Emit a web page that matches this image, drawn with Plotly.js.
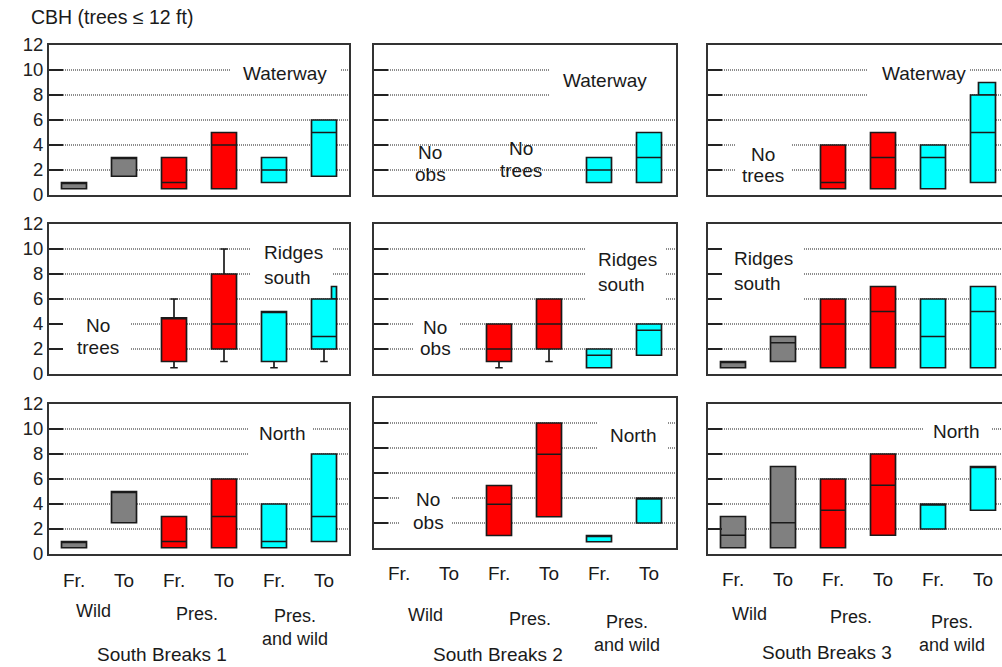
<!DOCTYPE html>
<html>
<head>
<meta charset="utf-8">
<script src="https://cdn.plot.ly/plotly-3.0.1.min.js"></script>
<style>html,body{margin:0;padding:0;background:#fff;}#chart{width:1002px;height:667px;}</style>
</head>
<body>
<div id="chart"></div>
<script>
// ---------- data ----------
const slotLabels = ['Fr.', 'To', 'Fr.', 'To', 'Fr.', 'To'];
const groupLabels = ['Wild', 'Pres.', 'Pres.<br>and wild'];
const siteLabels = ['South Breaks 1', 'South Breaks 2', 'South Breaks 3'];
const zoneLabels = ['Waterway', 'Ridges<br>south', 'North'];
const yTicks = [0, 2, 4, 6, 8, 10, 12];
const yTitle = 'CBH (trees \u2264 12 ft)';

// each slot: [q1, median, q3, lower whisker, upper whisker]; null = no box
const SB1_Waterway = [
  [0.5, null, 1, null, null],
  [1.5, null, 3, null, null],
  [0.5, 1, 3, null, null],
  [0.5, 4, 5, null, null],
  [1, 2, 3, null, null],
  [1.5, 5, 6, null, null]
];
const SB1_Ridges = [
  null,
  null,
  [1, null, 4.5, 0.5, 6],
  [2, 4, 8, 1, 10],
  [1, null, 5, 0.5, null],
  [2, 3, 6, 1, null]
];
const SB1_North = [
  [0.5, null, 1, null, null],
  [2.5, null, 5, null, null],
  [0.5, 1, 3, null, null],
  [0.5, 3, 6, null, null],
  [0.5, 1, 4, null, null],
  [1, 3, 8, null, null]
];
const SB2_Waterway = [
  null,
  null,
  null,
  null,
  [1, 2, 3, null, null],
  [1, 3, 5, null, null]
];
const SB2_Ridges = [
  null,
  null,
  [1, 2, 4, 0.5, null],
  [2, 4, 6, 1, null],
  [0.5, 1.5, 2, null, null],
  [1.5, 3.5, 4, null, null]
];
const SB2_North = [
  null,
  null,
  [1, 3.5, 5, null, null],
  [2.5, 7.5, 10, null, null],
  [0.5, null, 1, null, null],
  [2, null, 4, null, null]
];
const SB3_Waterway = [
  null,
  null,
  [0.5, 1, 4, null, null],
  [0.5, 3, 5, null, null],
  [0.5, 3, 4, null, null],
  [1, 5, 8, null, null]
];
const SB3_Ridges = [
  [0.5, null, 1, null, null],
  [1, 2.5, 3, null, null],
  [0.5, 4, 6, null, null],
  [0.5, 5, 7, null, null],
  [0.5, 3, 6, null, null],
  [0.5, 5, 7, null, null]
];
const SB3_North = [
  [0.5, 1.5, 3, null, null],
  [0.5, 2.5, 7, null, null],
  [0.5, 3.5, 6, null, null],
  [1.5, 5.5, 8, null, null],
  [2, null, 4, null, null],
  [3.5, null, 7, null, null]
];
// stepped top on part of a box (top value of the raised part)
const SB1_Ridges_step = [null, null, null, null, null, 7];
const SB3_Waterway_step = [null, null, null, null, null, 9];

// panel order: row-major (row = zone, column = site)
const panels = [
  SB1_Waterway, SB2_Waterway, SB3_Waterway,
  SB1_Ridges, SB2_Ridges, SB3_Ridges,
  SB1_North, SB2_North, SB3_North
];
const steps = [
  {panel: 3, data: SB1_Ridges_step, width: 0.1, offset: 0.15},
  {panel: 2, data: SB3_Waterway_step, width: 0.34, offset: -0.09}
];

// ---------- layout geometry (pixels) ----------
const W = 1002, H = 667;
const groupColors = ['#808080', '#ff0000', '#00ffff'];
const FONT = 'Liberation Sans, Arial, Helvetica, sans-serif';
const TXT = '#1a1a1a';
const colX = [[49, 349], [374, 676], [708, 1002]];
const colRange = [[0.5, 6.5], [0.5, 6.54], [0.5, 6.38]];
const rowY = [
  [[45, 195], [45, 195], [45, 195]],
  [[224, 374], [224, 374], [224, 374]],
  [[404, 554], [398, 548], [404, 554]]
];
// zone title positions [x, y, anchor] per panel
const zonePos = [
  [5.22, 9.75, 'center'], [5.12, 9.2, 'center'], [4.82, 9.76, 'center'],
  [4.76, 8.7, 'left'], [4.94, 8.16, 'left'], [0.98, 8.28, 'left'],
  [5.16, 9.68, 'center'], [5.68, 8.96, 'center'], [5.46, 9.84, 'center']
];
// "No obs"/"No trees" notes: [panel, x, yLine1, yLine2, text2]
const notes = [
  [3, 1.48, 3.92, 2.16, 'trees'],
  [1, 1.62, 3.44, 1.68, 'obs'],
  [1, 3.44, 3.76, 2.0, 'trees'],
  [4, 1.72, 3.76, 2.08, 'obs'],
  [7, 1.58, 3.84, 2.08, 'obs'],
  [2, 1.6, 3.28, 1.6, 'trees']
];
// white gaps in the gridlines behind texts: [panel, x0, x1, y0, y1]
const masks = [
  [0, 4.12, 6.32, 9.3, 10.7],
  [3, 4.52, 6.18, 7.4, 10.6],
  [3, 0.78, 2.12, 1.4, 4.6],
  [6, 4.48, 5.78, 7.4, 10.6],
  [1, 4.02, 6.54, 7.4, 10.6],
  [4, 4.72, 6.32, 5.4, 10.6],
  [4, 1.28, 2.22, 1.4, 4.6],
  [7, 4.98, 6.38, 7.4, 10.6],
  [7, 1.02, 2.06, 1.4, 4.6],
  [2, 3.68, 5.74, 7.4, 10.6],
  [2, 1.04, 2.18, 1.4, 4.6],
  [5, 0.78, 2.4, 5.4, 10.6],
  [8, 4.8, 6.18, 9.3, 10.7]
];
const slotLabelY = [580, 573, 579];
// group label positions per column: [x, y(px) of the label's centre]
const groupPos = [
  [[1.38, 611], [3.46, 614], [5.42, 627]],
  [[1.52, 615], [3.62, 619], [5.56, 633]],
  [[1.32, 614], [3.36, 617], [5.38, 633]]
];
const sitePos = [[2.76, 654], [2.98, 654], [2.88, 652]];

const axId = i => (i === 0 ? '' : String(i + 1));
const font = (s) => ({family: FONT, size: s, color: TXT});

const traces = [];
const layout = {
  width: W, height: H,
  margin: {l: 0, r: 0, t: 0, b: 0},
  paper_bgcolor: '#fff', plot_bgcolor: '#fff',
  showlegend: false,
  boxmode: 'overlay', barmode: 'overlay',
  title: {text: yTitle, x: 31 / W, xanchor: 'left', xref: 'paper', yref: 'paper',
          y: 1 - 17 / H, yanchor: 'middle', font: font(19.5)},
  annotations: [], shapes: []
};

panels.forEach((panel, p) => {
  const r = Math.floor(p / 3), c = p % 3;
  const id = axId(p);
  const [x0, x1] = colX[c];
  const [yTop, yBot] = rowY[r][c];
  layout['xaxis' + id] = {
    domain: [x0 / W, x1 / W], range: colRange[c], anchor: 'y' + id,
    showgrid: false, zeroline: false, showticklabels: false, ticks: '',
    showline: true, linecolor: '#333', linewidth: 2, mirror: true, fixedrange: true
  };
  layout['yaxis' + id] = {
    domain: [1 - yBot / H, 1 - yTop / H], range: [0, 12], anchor: 'x' + id,
    tickmode: 'array', tickvals: yTicks, ticktext: yTicks.map(String),
    showticklabels: c === 0, tickfont: {family: FONT, size: 18.5, color: '#222'},
    ticks: 'inside', ticklen: 14, tickwidth: 2, tickcolor: '#222',
    showgrid: true, gridcolor: '#8c8c8c', gridwidth: 1.3, griddash: '1px,1px',
    zeroline: false, showline: true, linecolor: '#333', linewidth: 2,
    mirror: c !== 2, fixedrange: true
  };

  // boxes, one trace per colour group
  for (let g = 0; g < 3; g++) {
    const xs = [], q1 = [], med = [], q3 = [], lo = [], hi = [];
    [2 * g, 2 * g + 1].forEach(s => {
      const b = panel[s];
      if (!b) return;
      xs.push(s + 1);
      q1.push(b[0]);
      q3.push(b[2]);
      med.push(b[1] === null ? b[2] : b[1]);
      lo.push(b[3] === null ? b[0] : b[3]);
      hi.push(b[4] === null ? b[2] : b[4]);
    });
    if (!xs.length) continue;
    traces.push({
      type: 'box', x: xs, q1: q1, median: med, q3: q3,
      lowerfence: lo, upperfence: hi,
      width: 0.5, whiskerwidth: 0.3, boxpoints: false,
      fillcolor: groupColors[g], line: {color: '#1a1a1a', width: 1.7},
      hoverinfo: 'skip', xaxis: 'x' + id, yaxis: 'y' + id
    });
  }

  // zone title
  const zp = zonePos[p];
  const zLines = zoneLabels[r].split('<br>');
  zLines.forEach((t, k) => {
    layout.annotations.push({
      xref: 'x' + id, yref: 'y' + id, x: zp[0], y: zp[1] - k * 2.0 + (zLines.length > 1 ? 1.0 : 0),
      text: t, showarrow: false, xanchor: zp[2], yanchor: 'middle', font: font(19)
    });
  });
});

// stepped box parts
steps.forEach(st => {
  const id = axId(st.panel);
  const xs = [], base = [], ys = [];
  st.data.forEach((v, s) => {
    if (v === null) return;
    const q3 = panels[st.panel][s][2];
    xs.push(s + 1); base.push(q3); ys.push(v - q3);
  });
  traces.push({
    type: 'bar', x: xs, y: ys, base: base, width: st.width, offset: st.offset,
    marker: {color: groupColors[2], line: {color: '#1a1a1a', width: 1.7}},
    hoverinfo: 'skip', xaxis: 'x' + id, yaxis: 'y' + id
  });
});

// notes
notes.forEach(n => {
  const id = axId(n[0]);
  [['No', n[2]], [n[4], n[3]]].forEach(([t, y]) => {
    layout.annotations.push({
      xref: 'x' + id, yref: 'y' + id, x: n[1], y: y, text: t, showarrow: false,
      xanchor: 'center', yanchor: 'middle', font: font(19)
    });
  });
});

// gridline gaps
masks.forEach(m => {
  const id = axId(m[0]);
  layout.shapes.push({
    type: 'rect', xref: 'x' + id, yref: 'y' + id, x0: m[1], x1: m[2], y0: m[3], y1: m[4],
    fillcolor: '#fff', line: {width: 0}, layer: 'between'
  });
});

// bottom labels
for (let c = 0; c < 3; c++) {
  const xr = 'x' + axId(6 + c);
  slotLabels.forEach((t, s) => {
    layout.annotations.push({
      xref: xr, yref: 'paper', x: s + 1, y: 1 - slotLabelY[c] / H, text: t,
      showarrow: false, xanchor: 'center', yanchor: 'middle', font: font(19)
    });
  });
  groupLabels.forEach((t, g) => {
    const pos = groupPos[c][g];
    layout.annotations.push({
      xref: xr, yref: 'paper', x: pos[0], y: 1 - pos[1] / H, text: t,
      showarrow: false, xanchor: 'center', yanchor: 'middle', align: 'center',
      font: font(18)
    });
  });
  layout.annotations.push({
    xref: xr, yref: 'paper', x: sitePos[c][0], y: 1 - sitePos[c][1] / H, text: siteLabels[c],
    showarrow: false, xanchor: 'center', yanchor: 'middle', font: font(19)
  });
}

Plotly.newPlot('chart', traces, layout, {displayModeBar: false, staticPlot: true});
</script>
</body>
</html>
